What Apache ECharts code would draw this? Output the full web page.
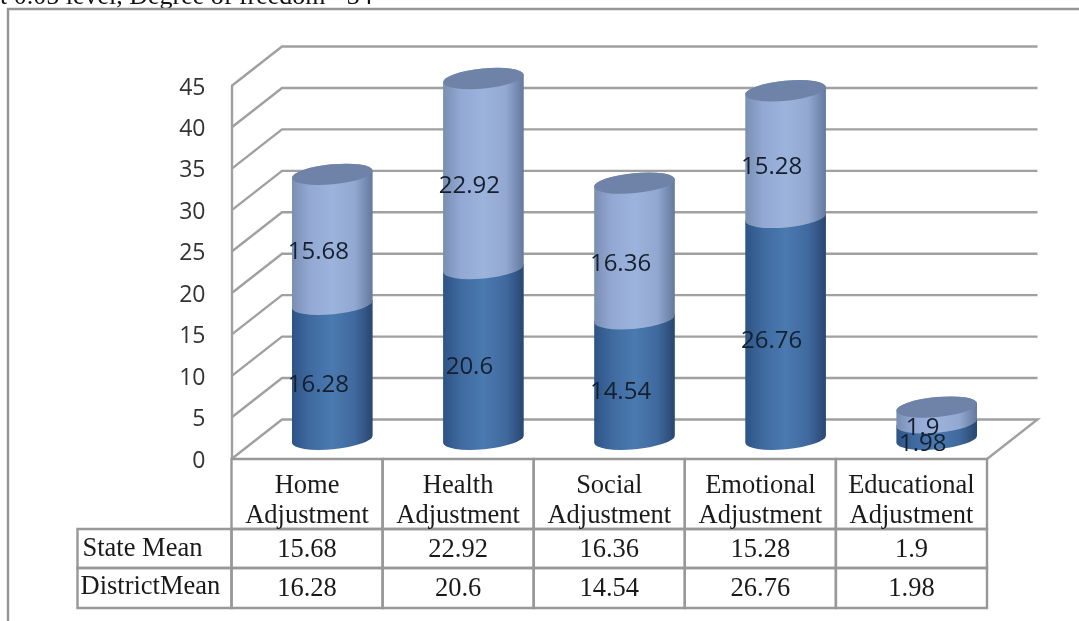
<!DOCTYPE html>
<html lang="en">
<head>
    <meta charset="UTF-8">
    <title>State Mean and District Mean</title>
    <style>
        html, body { margin: 0; padding: 0; background: #fff; }
        #chart { width: 1079px; height: 621px; }
    </style>
</head>
<body>
    <div id="chart"></div>
<script src="https://cdn.jsdelivr.net/npm/echarts@6/dist/echarts.min.js"></script>
<script>
var categories = ['Home Adjustment', 'Health Adjustment', 'Social Adjustment', 'Emotional Adjustment', 'Educational Adjustment'];
var stateMean = [15.68, 22.92, 16.36, 15.28, 1.9];
var districtMean = [16.28, 20.6, 14.54, 26.76, 1.98];
var yTicks = [0, 5, 10, 15, 20, 25, 30, 35, 40, 45];

// depth of the fake 3d box, in pixels
var depthX = 50.5, depthY = 39.5;
var lineColor = '#a0a0a0';
var tableColor = '#989898';
var serif = '"Liberation Serif", serif';
var sans = '"Open Sans", sans-serif';

var myCharts = echarts.init(document.getElementById('chart'));

function bodyGradient(left, near, mid, far, right) {
  return new echarts.graphic.LinearGradient(0, 0, 1, 0, [
    { offset: 0, color: left },
    { offset: 0.22, color: near },
    { offset: 0.5, color: mid },
    { offset: 0.78, color: far },
    { offset: 1, color: right }
  ]);
}

// one cylinder segment, tilted ellipse top and bottom
function cylinderPath(cx, y0, y1, rx, ry) {
  var dx = rx * Math.cos(0.095), dy = rx * Math.sin(0.095);
  var arc = 'A' + rx + ' ' + ry + ' -5.5 0 0 ';
  return 'M' + (cx - dx) + ' ' + (y0 + dy) +
    arc + (cx + dx) + ' ' + (y0 - dy) +
    'L' + (cx + dx) + ' ' + (y1 - dy) +
    arc + (cx - dx) + ' ' + (y1 + dy) + 'Z';
}

function capPath(cx, y, rx, ry) {
  var dx = rx * Math.cos(0.095), dy = rx * Math.sin(0.095);
  var arc = 'A' + rx + ' ' + ry + ' -5.5 0 0 ';
  return 'M' + (cx - dx) + ' ' + (y + dy) +
    arc + (cx + dx) + ' ' + (y - dy) +
    arc + (cx - dx) + ' ' + (y + dy) + 'Z';
}

// side wall and back wall line for one tick, plus its label
function renderWalls(params, api) {
  var tick = api.value(0);
  var p = api.coord([0, tick]);
  var x0 = params.coordSys.x, x1 = x0 + params.coordSys.width;
  var pts = [[x0, p[1]], [x0 + depthX, p[1] - depthY], [x1 + depthX, p[1] - depthY]];
  if (tick === 0) {
    pts.push([x1, p[1]]);
  }
  return {
    type: 'group',
    children: [
      { type: 'polyline', shape: { points: pts }, style: { stroke: lineColor, lineWidth: 2.4, fill: null }, silent: true },
      { type: 'text', style: { x: x0 - 26, y: p[1] + 2, text: String(tick), fill: '#333', font: '23px ' + sans, align: 'right', verticalAlign: 'middle' } }
    ]
  };
}

function renderCylinder(params, api) {
  var idx = api.value(0);
  var base = api.coord([idx, 0]);
  var cx = base[0] + depthX / 2;
  var rx = api.size([1, 0])[0] * 0.268;
  var ry = 10;
  var y0 = api.coord([idx, districtMean[idx]])[1] - depthY / 2;
  var y1 = api.coord([idx, districtMean[idx] + stateMean[idx]])[1] - depthY / 2;
  var yb = base[1] - depthY / 2;
  var children = [];
  if (params.seriesIndex === 1) {
    children.push({
      type: 'path',
      shape: { pathData: cylinderPath(cx, yb, y0, rx, ry), layout: 'center', x: cx - rx, y: y0 - ry, width: rx * 2, height: yb - y0 + ry * 2 },
      style: { fill: bodyGradient('#2d5384', '#3f6aa0', '#4a7ab0', '#40699e', '#28466f') }
    });
  } else {
    children.push({
      type: 'path',
      shape: { pathData: cylinderPath(cx, y0, y1, rx, ry), layout: 'center', x: cx - rx, y: y1 - ry, width: rx * 2, height: y0 - y1 + ry * 2 },
      style: { fill: bodyGradient('#7a8eb3', '#93a9d3', '#9cb3dc', '#92a8d0', '#64789c') }
    });
    children.push({
      type: 'path',
      shape: { pathData: capPath(cx, y1, rx, ry), layout: 'center', x: cx - rx, y: y1 - ry, width: rx * 2, height: ry * 2 },
      style: { fill: '#6e83a7' }
    });
  }
  return { type: 'group', children: children };
}

// data labels sit above the cylinders so they go in their own series
function renderLabel(params, api) {
  var idx = api.value(0);
  var low = params.seriesIndex === 3;
  var bottom = low ? 0 : districtMean[idx];
  var val = low ? districtMean[idx] : stateMean[idx];
  var p = api.coord([idx, bottom + val / 2]);
  return {
    type: 'text',
    style: {
      x: p[0] + depthX / 2 - 14,
      y: p[1] - depthY / 2 + 13,
      text: String(val),
      fill: '#15202e',
      font: '24px ' + sans,
      align: 'center',
      verticalAlign: 'middle'
    }
  };
}

function cell(x, y, w, h) {
  return { type: 'rect', shape: { x: x, y: y, width: w, height: h }, style: { fill: null, stroke: tableColor, lineWidth: 2.4 } };
}

function cellText(x, y, str, align) {
  return {
    type: 'text',
    style: { x: x, y: y, text: str, fill: '#1a1a1a', font: '26.5px ' + serif, align: align || 'center', verticalAlign: 'middle' }
  };
}

// table below the axis, columns follow the category band
function renderTable(params, api) {
  var idx = api.value(0);
  var c = api.coord([idx, 0]);
  var w = api.size([1, 0])[0];
  var x = c[0] - w / 2;
  var top = c[1];
  var rows = [70, 39, 40];
  var words = categories[idx].split(' ');
  var children = [
    cell(x, top, w, rows[0]),
    cell(x, top + rows[0], w, rows[1]),
    cell(x, top + rows[0] + rows[1], w, rows[2]),
    cellText(c[0], top + 27, words[0]),
    cellText(c[0], top + 57, words[1]),
    cellText(c[0], top + rows[0] + 21, String(stateMean[idx])),
    cellText(c[0], top + rows[0] + rows[1] + 21, String(districtMean[idx]))
  ];
  if (idx === 0) {
    var left = x - 154;
    children.push(cell(left, top + rows[0], 154, rows[1]));
    children.push(cell(left, top + rows[0] + rows[1], 154, rows[2]));
    children.push(cellText(left + 5, top + rows[0] + 20, 'State Mean', 'left'));
    children.push(cellText(left + 3, top + rows[0] + rows[1] + 19, 'DistrictMean', 'left'));
  }
  return { type: 'group', children: children };
}

var catIndex = categories.map(function (c, i) { return [i]; });

var option = {
  animation: false,
  backgroundColor: '#fff',
  graphic: [
    { type: 'text', silent: true, style: { x: 0, y: -16, text: 't 0.05 level, Degree of freedom =34', fill: '#111', font: '26px ' + serif } },
    { type: 'polyline', silent: true, shape: { points: [[8, 621], [8, 9], [1079, 9]] }, style: { fill: null, stroke: '#969696', lineWidth: 2.4 } }
  ],
  grid: { left: 231.5, top: 86, width: 755.5, height: 373 },
  xAxis: {
    type: 'category',
    data: categories,
    axisTick: { show: false },
    axisLabel: { show: false },
    axisLine: { show: false }
  },
  yAxis: {
    type: 'value',
    min: 0,
    max: 45,
    interval: 5,
    splitLine: { show: false },
    axisTick: { show: false },
    axisLine: { show: true, lineStyle: { color: lineColor, width: 2.4 } },
    axisLabel: { show: false }
  },
  series: [
    { type: 'custom', name: 'State Mean', renderItem: renderCylinder, data: catIndex, z: 4 },
    { type: 'custom', name: 'District Mean', renderItem: renderCylinder, data: catIndex, z: 3 },
    { type: 'custom', name: 'State label', renderItem: renderLabel, data: catIndex, z: 6 },
    { type: 'custom', name: 'District label', renderItem: renderLabel, data: catIndex, z: 6 },
    { type: 'custom', name: 'walls', renderItem: renderWalls, data: yTicks.map(function (t) { return [t]; }), encode: { y: 0 }, z: 1 },
    { type: 'custom', name: 'table', renderItem: renderTable, data: catIndex, z: 2 }
  ]
};

myCharts.setOption(option);
</script>
</body>
</html>
